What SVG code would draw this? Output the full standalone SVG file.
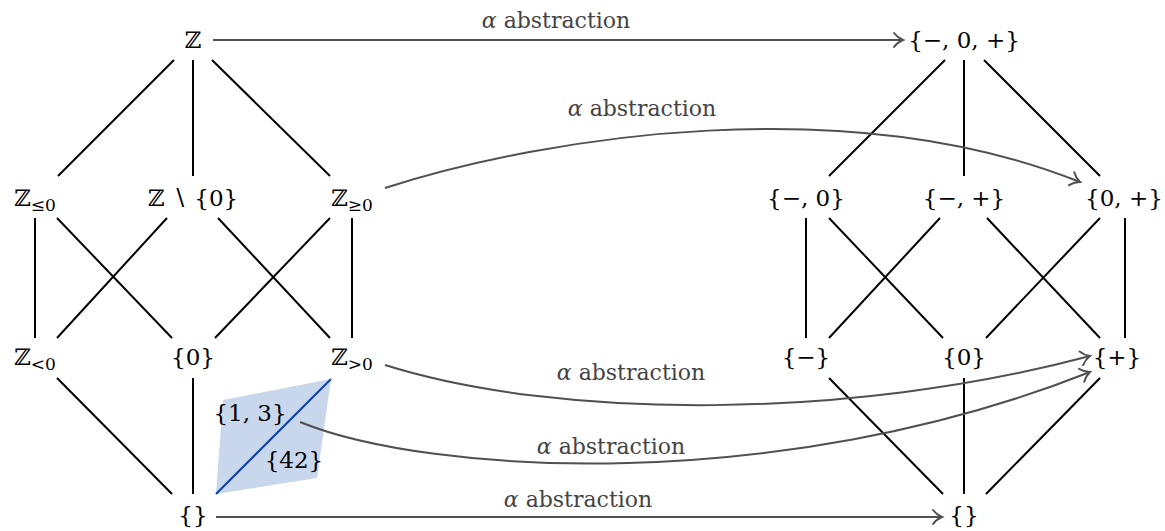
<svg xmlns="http://www.w3.org/2000/svg" width="1165" height="531" viewBox="0 0 1165 531">
<style>
.n{font-size:23px;fill:#000;text-anchor:middle}
.s{font-size:17px}
.l{font-size:22px;fill:#444;text-anchor:middle}
.e{stroke:#000;stroke-width:2;fill:none}
.a{stroke:#505050;stroke-width:2;fill:none;marker-end:url(#ah)}
</style>
<defs>
<marker id="ah" markerUnits="userSpaceOnUse" markerWidth="20" markerHeight="20" viewBox="-12 -10 14 20" refX="0" refY="0" orient="auto">
<path d="M-9,-7 C-6,-3 -2,-0.8 0,0 C-2,0.8 -6,3 -9,7" stroke="#505050" stroke-width="2" fill="none" stroke-linecap="round"/>
</marker>
</defs>
<g id="highlight">
<polygon points="223,400 331,379 317,478 216,494" fill="#c8d7ec"/>
<line x1="216" y1="494" x2="331" y2="379" stroke="#0d40a8" stroke-width="2"/>
</g>
<g id="edges">
<path class="e" d="M174,60 L58,176 M193,60 L193,176 M212,60 L330,176 M35,218 L35,338 M57,218 L172,338 M167,218 L57,338 M218,218 L330,338 M330,218 L215,338 M352,218 L352,338 M57,378 L172,494 M193,378 L193,494"/>
<path class="e" d="M945,60 L829,176 M964,60 L964,176 M984,60 L1100,176 M806,218 L806,338 M829,218 L943,338 M940,218 L829,338 M987,218 L1100,338 M1100,218 L986,338 M1125,218 L1125,338 M829,378 L943,494 M964,378 L964,494 M1100,378 L986,494"/>
</g>
<g id="arrows" font-family="'DejaVu Serif', 'Liberation Serif', serif">
<path class="a" d="M213,40 L903,40"/>
<path class="a" d="M385,188 C550,135 850,90 1080,182"/>
<path class="a" d="M385,365 C560,420 850,420 1090,356"/>
<path class="a" d="M300,422 C430,475 780,495 1090,372"/>
<path class="a" d="M216,517 L942,517"/>
<text class="l" x="556" y="28"><tspan font-style="italic">α</tspan> abstraction</text>
<text class="l" x="642" y="116"><tspan font-style="italic">α</tspan> abstraction</text>
<text class="l" x="631" y="380"><tspan font-style="italic">α</tspan> abstraction</text>
<text class="l" x="611" y="454"><tspan font-style="italic">α</tspan> abstraction</text>
<text class="l" x="578" y="507"><tspan font-style="italic">α</tspan> abstraction</text>
</g>
<g font-family="'DejaVu Serif', 'Liberation Serif', serif">
<g id="Z"><text class="n" x="193" y="48">ℤ</text></g>
<g id="Zle0"><text class="n" x="35" y="206">ℤ<tspan class="s" dy="5">≤0</tspan></text></g>
<g id="Znot0"><text class="n" x="193" y="206">ℤ ∖ {0}</text></g>
<g id="Zge0"><text class="n" x="352" y="206">ℤ<tspan class="s" dy="5">≥0</tspan></text></g>
<g id="Zlt0"><text class="n" x="35" y="365">ℤ<tspan class="s" dy="5">&lt;0</tspan></text></g>
<g id="zero"><text class="n" x="193" y="365">{0}</text></g>
<g id="Zgt0"><text class="n" x="352" y="365">ℤ<tspan class="s" dy="5">&gt;0</tspan></text></g>
<g id="empty"><text class="n" x="193" y="523">{}</text></g>
<g id="s13"><text class="n" x="250" y="421" font-size="20">{1, 3}</text></g>
<g id="s42"><text class="n" x="294" y="468" font-size="20">{42}</text></g>
<g id="mzp"><text class="n" x="964" y="48">{−, 0, +}</text></g>
<g id="mz"><text class="n" x="806" y="206">{−, 0}</text></g>
<g id="mp"><text class="n" x="964" y="206">{−, +}</text></g>
<g id="zp"><text class="n" x="1124" y="206">{0, +}</text></g>
<g id="m"><text class="n" x="806" y="365">{−}</text></g>
<g id="z"><text class="n" x="964" y="365">{0}</text></g>
<g id="p"><text class="n" x="1117" y="365">{+}</text></g>
<g id="rempty"><text class="n" x="964" y="523">{}</text></g>
</g>
</svg>
